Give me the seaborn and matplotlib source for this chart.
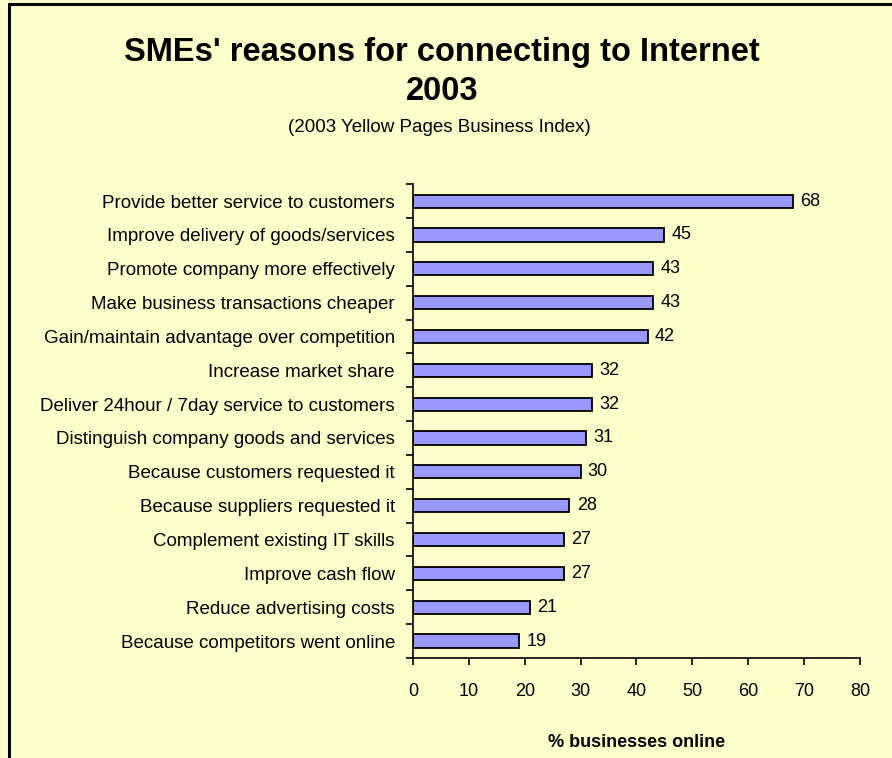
import matplotlib
matplotlib.use("Agg")
import matplotlib.pyplot as plt
from matplotlib.lines import Line2D
from matplotlib.ticker import FixedLocator, NullFormatter
import seaborn as sns
import pandas as pd

reasons = [
    "Provide better service to customers",
    "Improve delivery of goods/services",
    "Promote company more effectively",
    "Make business transactions cheaper",
    "Gain/maintain advantage over competition",
    "Increase market share",
    "Deliver 24hour / 7day service to customers",
    "Distinguish company goods and services",
    "Because customers requested it",
    "Because suppliers requested it",
    "Complement existing IT skills",
    "Improve cash flow",
    "Reduce advertising costs",
    "Because competitors went online",
]
pct_online = [68, 45, 43, 43, 42, 32, 32, 31, 30, 28, 27, 27, 21, 19]
x_ticks = [0, 10, 20, 30, 40, 50, 60, 70, 80]

title_line1 = "SMEs' reasons for connecting to Internet"
title_line2 = "2003"
subtitle_text = "(2003 Yellow Pages Business Index)"
xlabel_text = "% businesses online"

BG = "#FFFFCC"
BAR = "#9999FF"

sns.set_theme(style="white")
plt.rcParams["font.family"] = ["Liberation Sans", "DejaVu Sans"]

df = pd.DataFrame({"reason": reasons, "pct": pct_online})

fig = plt.figure(figsize=(8.92, 7.58), dpi=100, facecolor=BG)
ax = fig.add_axes([0.463, 0.132, 0.501, 0.625])
ax.set_facecolor(BG)

sns.barplot(data=df, x="pct", y="reason", orient="h", color=BAR,
            saturation=1, width=0.39, edgecolor="black", linewidth=1.3, ax=ax)

ax.set_xlim(0, 80)
ax.set_ylim(len(reasons) - 0.5, -0.5)
ax.set_xticks(x_ticks)
ax.set_xticklabels([str(t) for t in x_ticks], fontsize=13, color="black")
ax.set_yticks(range(len(reasons)))
ax.set_yticklabels(reasons, fontsize=13.5, color="black")
ax.yaxis.set_minor_locator(FixedLocator([i - 0.5 for i in range(len(reasons) + 1)]))
ax.yaxis.set_minor_formatter(NullFormatter())
ax.tick_params(axis="y", which="major", length=0, pad=13)
ax.tick_params(axis="y", which="minor", length=5, width=1.2, color="black", direction="out", left=True)
ax.tick_params(axis="x", which="major", length=5, width=1.2, color="black", direction="out",
               bottom=True, pad=13)

for side in ("top", "right"):
    ax.spines[side].set_visible(False)
for side in ("left", "bottom"):
    ax.spines[side].set_color("black")
    ax.spines[side].set_linewidth(1.2)

ax.set_ylabel("")
ax.set_xlabel(xlabel_text, fontsize=13, fontweight="bold", color="black")
ax.xaxis.set_label_coords(0.5, -0.16)

for i, v in enumerate(pct_online):
    ax.text(v + 1.3, i, f"{v}", va="center", ha="left", fontsize=13, color="black")

fig.text(0.4955, 0.9195, title_line1, ha="center", va="baseline", fontsize=23.5,
         fontweight="bold", color="black")
fig.text(0.4955, 0.868, title_line2, ha="center", va="baseline", fontsize=23.5,
         fontweight="bold", color="black")
fig.text(0.493, 0.826, subtitle_text, ha="center", va="baseline", fontsize=13.5, color="black")

# frame lines along the left and top edges
fig.add_artist(Line2D([0.0101, 0.0101], [0, 0.995], transform=fig.transFigure,
                      color="black", linewidth=2.2))
fig.add_artist(Line2D([0.0101, 1], [0.9945, 0.9945], transform=fig.transFigure,
                      color="black", linewidth=2.2))

fig.savefig("out.png", dpi=100, facecolor=BG)
